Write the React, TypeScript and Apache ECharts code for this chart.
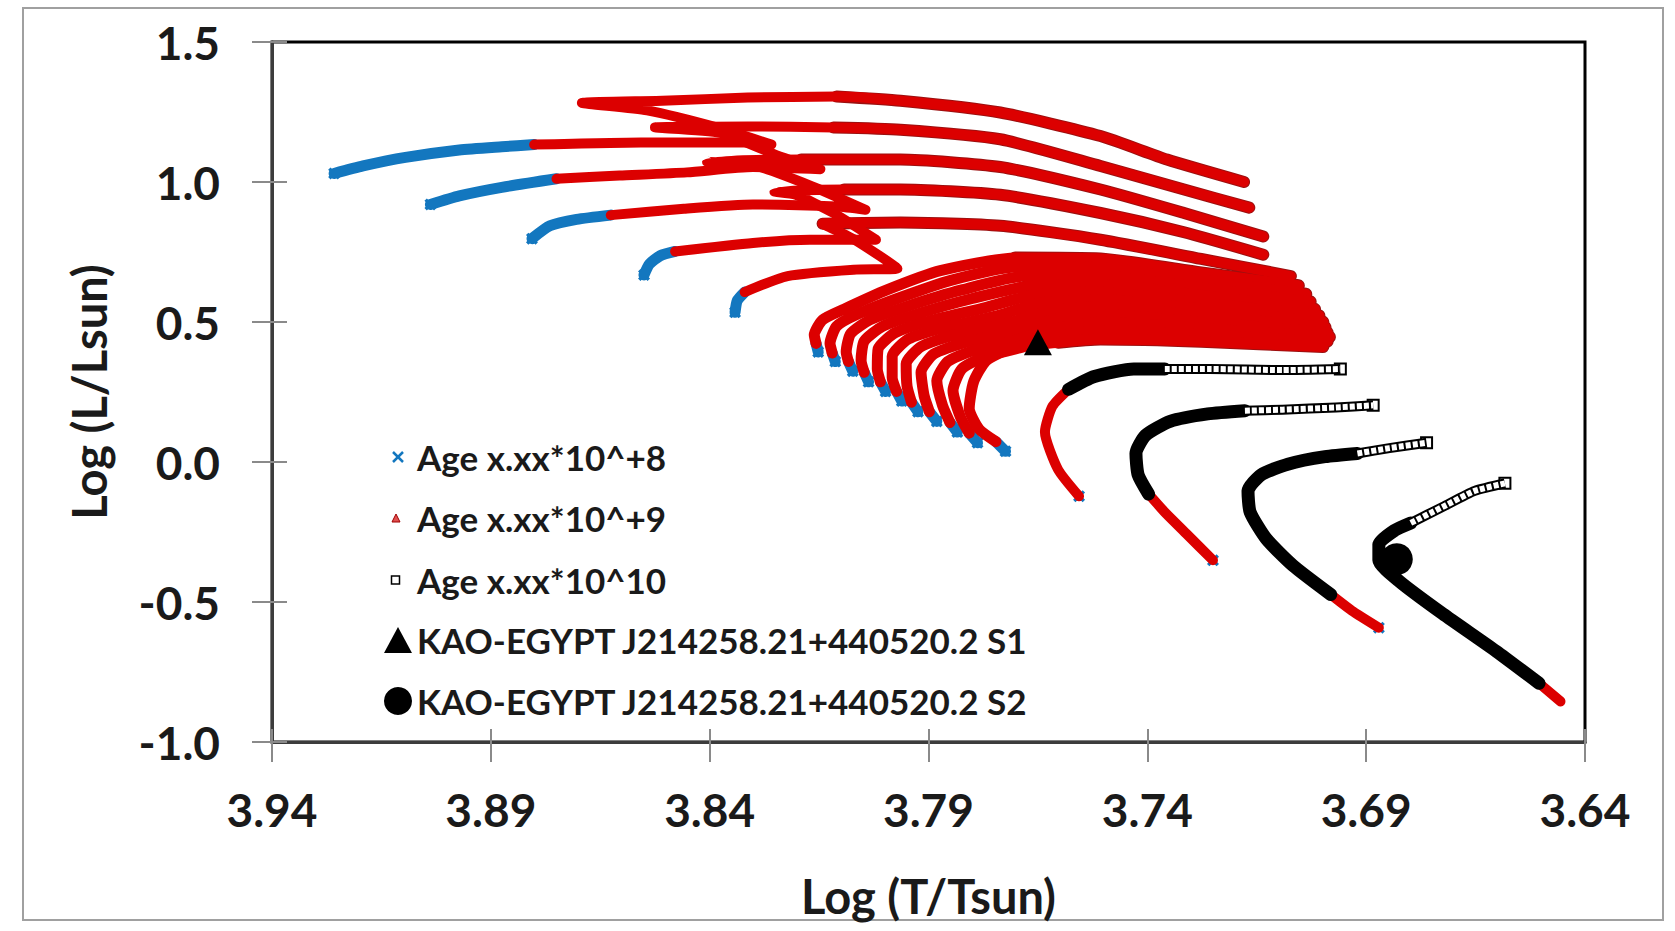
import React, { useEffect, useRef } from "react";
import * as echarts from "echarts";

const legendLabels = [
  "Age x.xx*10^+8",
  "Age x.xx*10^+9",
  "Age x.xx*10^10",
  "KAO-EGYPT J214258.21+440520.2 S1",
  "KAO-EGYPT J214258.21+440520.2 S2",
];

const xAxisTitle = "Log (T/Tsun)";
const yAxisTitle = "Log (L/Lsun)";

// Upper (massive) tracks: blue early part (Age x.xx*10^+8)
const upperBlue = [
  [[3.9258, 1.0305], [3.9192, 1.0573], [3.9095, 1.0878], [3.8972, 1.1145], [3.8875, 1.126], [3.8801, 1.1336]],
  [[3.9038, 0.9198], [3.8972, 0.9504], [3.8875, 0.9809], [3.875, 1.0115]],
  [[3.8806, 0.7977], [3.8765, 0.8435], [3.8704, 0.8664], [3.8626, 0.8817]],
  [[3.855, 0.6679], [3.8538, 0.7061], [3.8513, 0.7366], [3.8479, 0.7519]],
  [[3.8342, 0.5344], [3.8337, 0.5763], [3.832, 0.6069]],
];

// Upper tracks: red part (Age x.xx*10^+9), main sequence, hook and crossing
const upperRed = [
  [[3.8801, 1.1336], [3.8557, 1.1412], [3.8313, 1.1412], [3.8259, 1.1336], [3.8374, 1.1908], [3.8543, 1.2557], [3.8692, 1.2824], [3.8508, 1.2901], [3.8313, 1.3015], [3.811, 1.3053], [3.7964, 1.2901], [3.7736, 1.2481], [3.7507, 1.1641], [3.7355, 1.0802], [3.7179, 1.0]],
  [[3.875, 1.0115], [3.8606, 1.0229], [3.8452, 1.0344], [3.8301, 1.0534], [3.8147, 1.0458], [3.824, 1.0916], [3.8376, 1.1756], [3.8525, 1.1947], [3.8313, 1.1985], [3.8117, 1.1947], [3.7964, 1.187], [3.7736, 1.1527], [3.7507, 1.0573], [3.7316, 0.9733], [3.7167, 0.9084]],
  [[3.8626, 0.8817], [3.8459, 0.9046], [3.8301, 0.9198], [3.811, 0.9122], [3.8044, 0.9008], [3.8166, 0.9847], [3.8301, 1.0611], [3.8406, 1.0725], [3.8191, 1.0802], [3.7964, 1.0802], [3.7736, 1.0534], [3.7507, 0.9733], [3.7316, 0.8893], [3.7135, 0.8053]],
  [[3.8479, 0.7519], [3.8301, 0.7824], [3.8171, 0.7939], [3.802, 0.7939], [3.8117, 0.8893], [3.8203, 0.9542], [3.8252, 0.9656], [3.8093, 0.9733], [3.7964, 0.9733], [3.7736, 0.9542], [3.7507, 0.8893], [3.7316, 0.8206], [3.7135, 0.7405]],
  [[3.832, 0.6069], [3.8222, 0.6641], [3.8071, 0.687], [3.7971, 0.6908], [3.8069, 0.7939], [3.8142, 0.8511], [3.7964, 0.855], [3.7736, 0.8435], [3.7507, 0.7939], [3.7277, 0.7252], [3.7072, 0.6641]],
];

// Fan tracks: blue ZAMS parts
const fanBlue = [
  [[3.8152, 0.3931], [3.8157, 0.4237]],
  [[3.8113, 0.3588], [3.812, 0.3893]],
  [[3.8073, 0.3244], [3.8083, 0.3588]],
  [[3.8037, 0.2863], [3.8047, 0.3206]],
  [[3.7998, 0.2519], [3.801, 0.2863]],
  [[3.7961, 0.2176], [3.7973, 0.2519]],
  [[3.7924, 0.1794], [3.7939, 0.2137]],
  [[3.7881, 0.145], [3.7898, 0.1794]],
  [[3.7834, 0.1069], [3.7851, 0.1412]],
  [[3.7788, 0.0687], [3.7807, 0.1031]],
  [[3.7724, 0.0382], [3.7746, 0.0725]],
];

// Fan tracks: red parts
const fanRed = [
  [[3.8157, 0.4237], [3.8161, 0.4542], [3.8142, 0.5076], [3.8093, 0.5458], [3.7995, 0.6145], [3.7873, 0.6832], [3.7702, 0.729], [3.7507, 0.7252], [3.7277, 0.6756], [3.7055, 0.6298]],
  [[3.812, 0.3893], [3.8125, 0.4237], [3.811, 0.4847], [3.8064, 0.5267], [3.7971, 0.584], [3.7849, 0.6489], [3.769, 0.6985], [3.7507, 0.6947], [3.7277, 0.6489], [3.7038, 0.5992]],
  [[3.8083, 0.3588], [3.8088, 0.3931], [3.8078, 0.458], [3.8034, 0.5076], [3.7946, 0.5573], [3.7824, 0.6145], [3.7678, 0.6641], [3.7507, 0.6641], [3.7277, 0.6221], [3.7028, 0.5725]],
  [[3.8047, 0.3206], [3.8054, 0.3626], [3.8047, 0.4313], [3.8005, 0.4847], [3.7922, 0.5305], [3.78, 0.584], [3.7665, 0.6298], [3.7507, 0.6336], [3.7277, 0.5954], [3.7018, 0.5458]],
  [[3.801, 0.2863], [3.8017, 0.3321], [3.8015, 0.4046], [3.7976, 0.4618], [3.7898, 0.5038], [3.7775, 0.5496], [3.7653, 0.5992], [3.7507, 0.6069], [3.7277, 0.5687], [3.7008, 0.5229]],
  [[3.7973, 0.2519], [3.7983, 0.3015], [3.7983, 0.3779], [3.7946, 0.4389], [3.7873, 0.4771], [3.7751, 0.5191], [3.7641, 0.5687], [3.7507, 0.5802], [3.7277, 0.5458], [3.6999, 0.5]],
  [[3.7939, 0.2137], [3.7949, 0.271], [3.7951, 0.3511], [3.7917, 0.4122], [3.7849, 0.4504], [3.7727, 0.4924], [3.7629, 0.5382], [3.7507, 0.5534], [3.7277, 0.5229], [3.6994, 0.4809]],
  [[3.7898, 0.1794], [3.791, 0.2366], [3.7917, 0.3206], [3.7888, 0.3855], [3.7824, 0.4237], [3.7714, 0.4618], [3.7617, 0.5076], [3.7507, 0.5267], [3.7277, 0.5], [3.6989, 0.4618]],
  [[3.7851, 0.1412], [3.7868, 0.2023], [3.7881, 0.2901], [3.7856, 0.3588], [3.78, 0.3969], [3.7702, 0.4351], [3.7604, 0.4771], [3.7507, 0.5], [3.7277, 0.4771], [3.6984, 0.4466]],
  [[3.7807, 0.1031], [3.7827, 0.1603], [3.7844, 0.2557], [3.7824, 0.3321], [3.7775, 0.374], [3.769, 0.4084], [3.7592, 0.4504], [3.7507, 0.4695], [3.7277, 0.4542], [3.6989, 0.4313]],
  [[3.7746, 0.0725], [3.7785, 0.1183], [3.7807, 0.1908], [3.7797, 0.2863], [3.7768, 0.3626], [3.7707, 0.4084], [3.7604, 0.4275], [3.7507, 0.4389], [3.7277, 0.4313], [3.6999, 0.4122]],
];

// Low-mass tracks: red parts
const lowRed = [
  [[3.7556, -0.1221], [3.7604, -0.0267], [3.7634, 0.1069], [3.7617, 0.1985], [3.758, 0.2595]],
  [[3.725, -0.3511], [3.7311, -0.2557], [3.736, -0.1794], [3.7397, -0.1145]],
  [[3.6871, -0.5916], [3.6933, -0.5305], [3.6981, -0.4733]],
  [[3.6456, -0.855], [3.6505, -0.7901]],
];

// Low-mass tracks: dense black parts (Age x.xx*10^10)
const lowBlack = [
  [[3.758, 0.2595], [3.7521, 0.3053], [3.7431, 0.3321], [3.736, 0.3321]],
  [[3.7397, -0.1145], [3.7421, -0.0458], [3.7426, 0.0305], [3.7404, 0.0954], [3.7348, 0.145], [3.7262, 0.1718], [3.7177, 0.1832]],
  [[3.6981, -0.4733], [3.7067, -0.3702], [3.7128, -0.2748], [3.7165, -0.1794], [3.717, -0.1031], [3.714, -0.0458], [3.7079, -0.0076], [3.6994, 0.0191], [3.692, 0.0305]],
  [[3.6505, -0.7901], [3.6603, -0.6756], [3.6725, -0.542], [3.6823, -0.4275], [3.6871, -0.3511], [3.6871, -0.2939], [3.6835, -0.2443], [3.6798, -0.2176]],
];

// Low-mass tracks: open-square tails
const lowSquares = [
  [[3.736, 0.3321], [3.7258, 0.3321], [3.7091, 0.3282], [3.6959, 0.3321]],
  [[3.7177, 0.1832], [3.7091, 0.187], [3.6969, 0.1947], [3.6884, 0.2023]],
  [[3.692, 0.0305], [3.6847, 0.0496], [3.6762, 0.0687]],
  [[3.6798, -0.2176], [3.6725, -0.1603], [3.6652, -0.1031], [3.6583, -0.0763]],
];

// Blue cross markers at the start of tracks
const startCrosses = [
  [3.8152, 0.3931], [3.8113, 0.3588], [3.8073, 0.3244], [3.8037, 0.2863], [3.7998, 0.2519],
  [3.7961, 0.2176], [3.7924, 0.1794], [3.7881, 0.145], [3.7834, 0.1069], [3.7788, 0.0687],
  [3.7724, 0.0382], [3.7556, -0.1221], [3.725, -0.3511], [3.6871, -0.5916],
  [3.9258, 1.0305], [3.9038, 0.9198], [3.8806, 0.7977], [3.855, 0.6679], [3.8342, 0.5344],
];

const star1 = [[3.765, 0.428]];
const star2 = [[3.683, -0.347]];

const BLUE = "#1377bf";
const RED = "#dc0000";
const DARK_RED = "#9c1010";
const BLACK = "#000000";
const FONT = "Lato";
const CROSS =
  "path://M2,0L5,3L8,0L10,2L7,5L10,8L8,10L5,7L2,10L0,8L3,5L0,2Z";

export default function App() {
  const ref = useRef<HTMLDivElement>(null);

  useEffect(() => {
    const chart = echarts.init(ref.current!, undefined, { renderer: "svg" });

    const line = (name: string, data: number[][], color: string, width: number, extra: any = {}) => ({
      type: "line",
      name,
      data,
      xAxisIndex: 0,
      yAxisIndex: 0,
      showSymbol: false,
      symbol: "none",
      smooth: 0.2,
      silent: true,
      lineStyle: { color, width, cap: "round", join: "round", opacity: 1, ...(extra.lineStyle || {}) },
    });

    const series: any[] = [];
    upperBlue.forEach((d) => series.push(line(legendLabels[0], d, BLUE, 11)));
    fanBlue.forEach((d) => series.push(line(legendLabels[0], d, BLUE, 11)));
    // darker outline under the sparse (triangle) tails
    upperRed.forEach((d) => series.push(line(legendLabels[1], d.slice(-6), DARK_RED, 12)));
    fanRed.forEach((d) => series.push(line(legendLabels[1], d.slice(-4), DARK_RED, 13)));
    upperRed.forEach((d) => series.push(line(legendLabels[1], d, RED, 10)));
    fanRed.forEach((d) => series.push(line(legendLabels[1], d, RED, 11)));
    lowRed.forEach((d) => series.push(line(legendLabels[1], d, RED, 10)));
    series.push({
      type: "scatter",
      name: legendLabels[0],
      data: startCrosses,
      symbol: CROSS,
      symbolSize: 12,
      silent: true,
      itemStyle: { color: BLUE, opacity: 1 },
    });
    lowBlack.forEach((d) => series.push(line(legendLabels[2], d, BLACK, 13)));
    lowSquares.forEach((d) => {
      series.push(line(legendLabels[2], d, BLACK, 10, { lineStyle: { cap: "butt" } }));
      series.push(
        line(legendLabels[2], d, "#ffffff", 6, { lineStyle: { type: [5, 2], cap: "butt" } })
      );
    });
    series.push({
      type: "scatter",
      name: legendLabels[2],
      data: lowSquares.map((d) => d[d.length - 1]),
      symbol: "rect",
      symbolSize: 11,
      silent: true,
      itemStyle: { color: "#ffffff", borderColor: BLACK, borderWidth: 2, opacity: 1 },
    });
    series.push({
      type: "scatter",
      name: legendLabels[3],
      data: star1,
      symbol: "triangle",
      symbolSize: [28, 26],
      silent: true,
      itemStyle: { color: BLACK, opacity: 1 },
      z: 5,
    });
    series.push({
      type: "scatter",
      name: legendLabels[4],
      data: star2,
      symbol: "circle",
      symbolSize: 32,
      silent: true,
      itemStyle: { color: BLACK, opacity: 1 },
      z: 5,
    });

    const labelStyle = {
      fontSize: 46,
      fontWeight: "bold",
      fontFamily: FONT,
      color: "#1a1a1a",
    };

    const rowY = [457, 518, 580, 640, 701];
    const legendGraphics: any[] = [
      {
        type: "rect",
        shape: { x: 23, y: 8, width: 1640, height: 912 },
        style: { fill: "none", stroke: "#a0a0a0", lineWidth: 2 },
        z: 0,
        silent: true,
      },
      {
        type: "group",
        z: 10,
        children: [
          { type: "line", shape: { x1: 393, y1: rowY[0] - 5, x2: 403, y2: rowY[0] + 5 }, style: { stroke: BLUE, lineWidth: 2.5 } },
          { type: "line", shape: { x1: 403, y1: rowY[0] - 5, x2: 393, y2: rowY[0] + 5 }, style: { stroke: BLUE, lineWidth: 2.5 } },
          { type: "polygon", shape: { points: [[392, rowY[1] + 4], [400, rowY[1] + 4], [396, rowY[1] - 4]] }, style: { fill: "#e05050", stroke: "#a00000", lineWidth: 1 } },
          { type: "rect", shape: { x: 391.5, y: rowY[2] - 4, width: 8, height: 8 }, style: { fill: "#fff", stroke: BLACK, lineWidth: 1.5 } },
          { type: "polygon", shape: { points: [[384, rowY[3] + 13], [412, rowY[3] + 13], [398, rowY[3] - 13]] }, style: { fill: BLACK } },
          { type: "circle", shape: { cx: 398, cy: rowY[4], r: 14 }, style: { fill: BLACK } },
          ...legendLabels.map((t, i) => ({
            type: "text",
            x: 417,
            y: rowY[i],
            style: {
              text: t,
              fontSize: 35,
              fontWeight: "bold",
              fontFamily: FONT,
              fill: "#1a1a1a",
              verticalAlign: "middle",
              align: "left",
            },
          })),
        ],
      },
    ];

    const option: any = {
      animation: false,
      backgroundColor: "#ffffff",
      grid: {
        left: 272,
        right: 90,
        top: 42,
        bottom: 189,
        show: true,
        borderColor: "#000",
        borderWidth: 3,
        containLabel: false,
      },
      xAxis: [
        {
          type: "value",
          min: 3.64,
          max: 3.94,
          interval: 0.05,
          inverse: true,
          position: "bottom",
          axisLine: { show: true, onZero: false, lineStyle: { color: "#3c3c3c", width: 3 } },
          axisTick: { show: true, length: 20, lineStyle: { color: "#8a8a8a", width: 2 } },
          axisLabel: {
            ...labelStyle,
            margin: 44,
            showMinLabel: true,
            showMaxLabel: true,
            hideOverlap: false,
            formatter: (v: number) => v.toFixed(2),
          },
          splitLine: { show: false },
          name: xAxisTitle,
          nameLocation: "middle",
          nameGap: 130,
          nameTextStyle: { ...labelStyle, fontSize: 47 },
        },
        {
          type: "value",
          min: 3.64,
          max: 3.94,
          interval: 0.05,
          inverse: true,
          position: "bottom",
          axisLine: { show: false, onZero: false },
          axisTick: { show: true, inside: true, length: 13, lineStyle: { color: "#8a8a8a", width: 2 } },
          axisLabel: { show: false },
          splitLine: { show: false },
        },
      ],
      yAxis: [
        {
          type: "value",
          min: -1,
          max: 1.5,
          interval: 0.5,
          position: "left",
          axisLine: { show: true, onZero: false, lineStyle: { color: "#3c3c3c", width: 3 } },
          axisTick: { show: true, length: 20, lineStyle: { color: "#8a8a8a", width: 2 } },
          axisLabel: {
            ...labelStyle,
            margin: 52,
            showMinLabel: true,
            showMaxLabel: true,
            formatter: (v: number) => v.toFixed(1),
          },
          splitLine: { show: false },
          name: yAxisTitle,
          nameLocation: "middle",
          nameGap: 160,
          nameRotate: 90,
          nameTextStyle: { ...labelStyle, fontSize: 47 },
        },
        {
          type: "value",
          min: -1,
          max: 1.5,
          interval: 0.5,
          position: "left",
          axisLine: { show: false, onZero: false },
          axisTick: { show: true, inside: true, length: 15, lineStyle: { color: "#8a8a8a", width: 2 } },
          axisLabel: { show: false },
          splitLine: { show: false },
        },
      ],
      graphic: legendGraphics,
      series,
    };

    chart.setOption(option);
    return () => chart.dispose();
  }, []);

  return (
    <div
      ref={ref}
      style={{ position: "fixed", left: 0, top: 0, width: 1675, height: 931, background: "#fff" }}
    />
  );
}
